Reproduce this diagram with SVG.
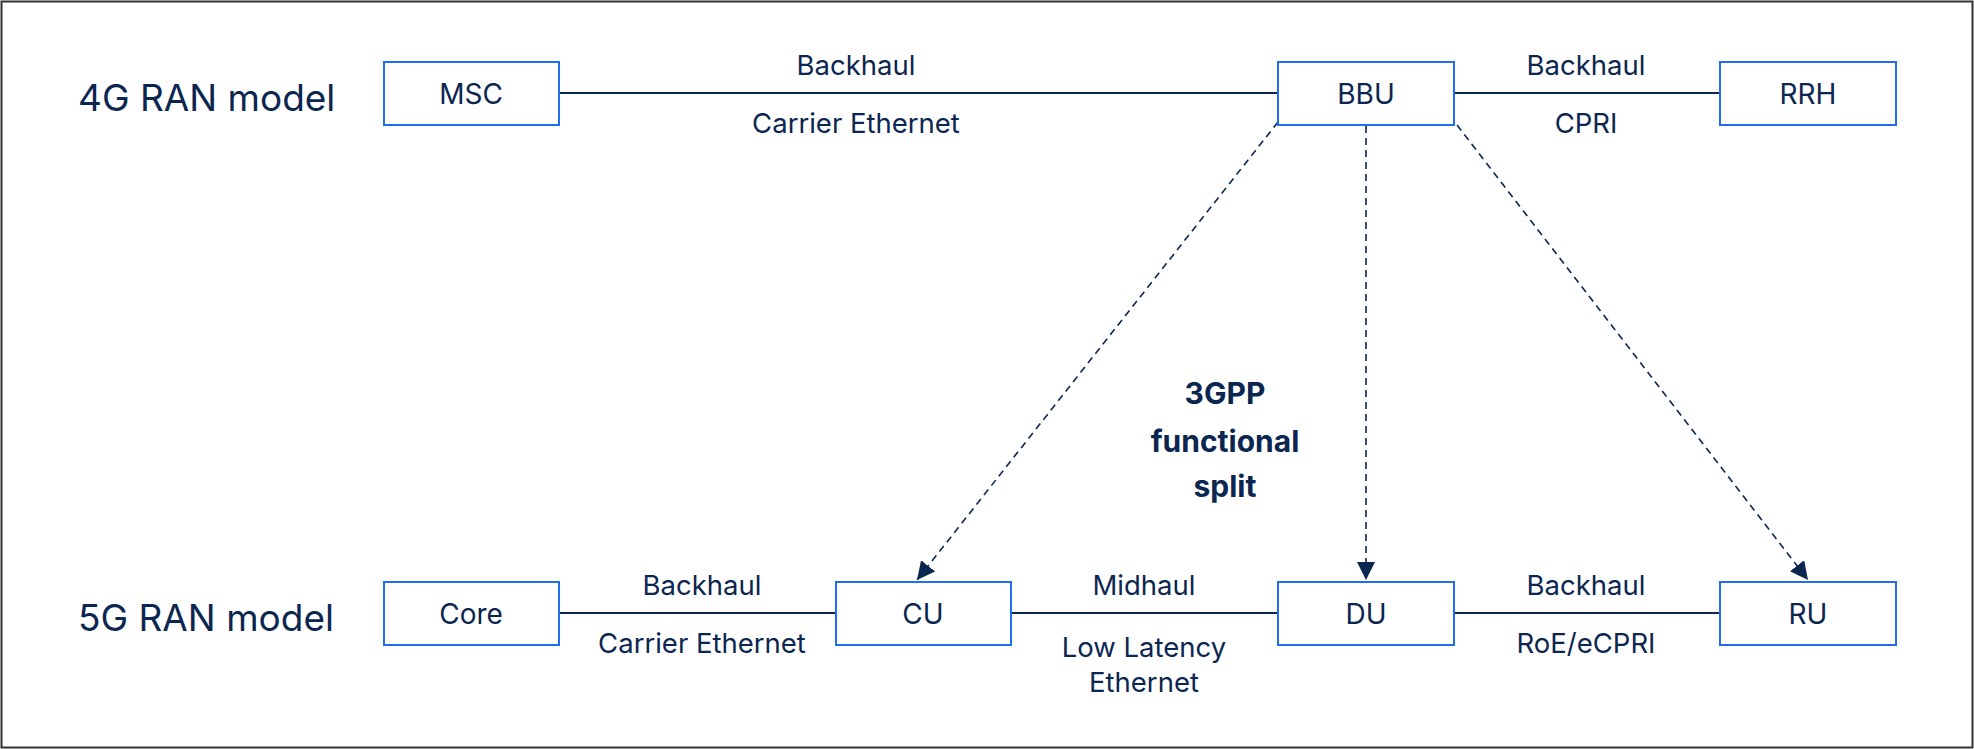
<svg xmlns="http://www.w3.org/2000/svg" width="1974" height="749" viewBox="0 0 1974 749">
<style>
.box{fill:#fff;stroke:#1f6ff0;stroke-width:2}
.t{font-family:Inter,"Liberation Sans",sans-serif;fill:#0b2650;text-anchor:middle;dominant-baseline:central}
.n{font-size:28px}.l{font-size:27.5px}.h{font-size:37px;text-anchor:start}
.b{font-size:30px;font-weight:bold}
.c{stroke:#0b2650;stroke-width:2;fill:none}
.d{stroke:#0b2650;stroke-width:1.6;fill:none;stroke-dasharray:7 5}
</style>
<defs>
<marker id="a2" markerWidth="18" markerHeight="18" refX="16" refY="8" orient="auto" markerUnits="userSpaceOnUse" viewBox="0 0 16 16"><path d="M0,0L16,8L0,16z" fill="#0b2650"/></marker></defs>
<rect x="1.5" y="1.5" width="1971" height="746" fill="#fff" stroke="#333" stroke-width="2"/>
<text class="t h" x="78" y="97">4G RAN model</text>
<text class="t h" x="78" y="617">5G RAN model</text>
<g id="connectors">
<line class="c" x1="559" y1="93" x2="1278" y2="93"/>
<line class="c" x1="1454" y1="93" x2="1720" y2="93"/>
<line class="c" x1="559" y1="613" x2="836" y2="613"/>
<line class="c" x1="1011" y1="613" x2="1278" y2="613"/>
<line class="c" x1="1454" y1="613" x2="1720" y2="613"/>
<line class="d" x1="1278" y1="122" x2="917" y2="580" marker-end="url(#a2)"/>
<line class="d" x1="1366" y1="126" x2="1366" y2="580" marker-end="url(#a2)"/>
<line class="d" x1="1457" y1="125" x2="1808" y2="580" marker-end="url(#a2)"/>
<text class="t l" x="856" y="65">Backhaul</text>
<text class="t l" x="856" y="123">Carrier Ethernet</text>
<text class="t l" x="1586" y="65">Backhaul</text>
<text class="t l" x="1586" y="123">CPRI</text>
<text class="t l" x="702" y="585">Backhaul</text>
<text class="t l" x="702" y="643">Carrier Ethernet</text>
<text class="t l" x="1144" y="585">Midhaul</text>
<text class="t l" x="1144" y="647">Low Latency</text>
<text class="t l" x="1144" y="682">Ethernet</text>
<text class="t l" x="1586" y="585">Backhaul</text>
<text class="t l" x="1586" y="643">RoE/eCPRI</text>
</g>
<text class="t b" x="1225" y="393">3GPP</text>
<text class="t b" x="1225" y="441">functional</text>
<text class="t b" x="1225" y="486">split</text>
<g id="msc"><rect class="box" x="384" y="62" width="175" height="63"/><text class="t n" x="471" y="94">MSC</text></g>
<g id="bbu"><rect class="box" x="1278" y="62" width="176" height="63"/><text class="t n" x="1366" y="94">BBU</text></g>
<g id="rrh"><rect class="box" x="1720" y="62" width="176" height="63"/><text class="t n" x="1808" y="94">RRH</text></g>
<g id="core"><rect class="box" x="384" y="582" width="175" height="63"/><text class="t n" x="471" y="614">Core</text></g>
<g id="cu"><rect class="box" x="836" y="582" width="175" height="63"/><text class="t n" x="923" y="614">CU</text></g>
<g id="du"><rect class="box" x="1278" y="582" width="176" height="63"/><text class="t n" x="1366" y="614">DU</text></g>
<g id="ru"><rect class="box" x="1720" y="582" width="176" height="63"/><text class="t n" x="1808" y="614">RU</text></g>
</svg>
